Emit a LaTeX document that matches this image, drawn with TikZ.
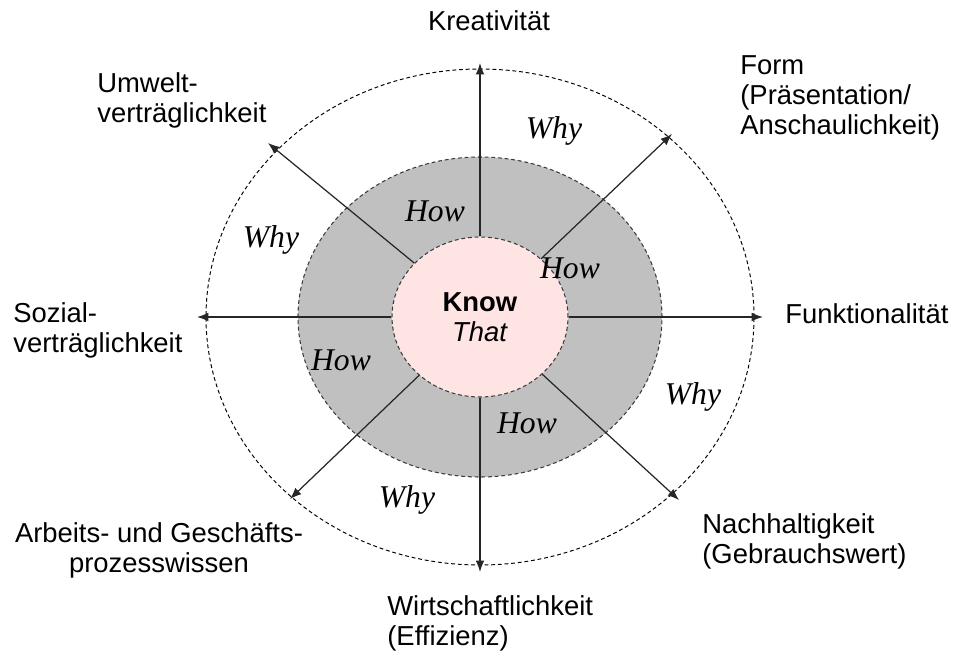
\documentclass[tikz,border=0pt]{standalone}
\usepackage{fontspec}
\setsansfont{Liberation Sans}
\newfontfamily\whyfont{Liberation Serif}
\usetikzlibrary{shapes.geometric,arrows.meta}
\definecolor{howgray}{RGB}{192,192,192}
\definecolor{knowpink}{RGB}{255,228,228}
\definecolor{rimgray}{RGB}{60,60,60}

\begin{document}
\begin{tikzpicture}[
    lbl/.style={font=\sffamily\fontsize{15.6}{17.1}\selectfont,inner sep=0pt},
    ask/.style={font=\whyfont\itshape\fontsize{18}{20}\selectfont,inner sep=0pt},
    rim/.style={dash pattern=on 2.2pt off 1.6pt,line width=0.6pt},
    ray/.style={-{Latex[length=6.5pt,width=5pt]},line width=0.7pt,black!85}]
  \useasboundingbox (-9.6,-6.7) rectangle (9.5,6.34);
  % the two rings
  \draw[rim,draw=rimgray,fill=howgray] (0,0) ellipse [x radius=3.64,y radius=3.2];
  \draw[rim,line width=0.55pt] (0,0) ellipse [x radius=5.48,y radius=4.96];
  \node[ellipse,rim,draw=rimgray,fill=knowpink,
        minimum width=3.52cm,minimum height=3.2cm,inner sep=0pt,
        align=center,font=\sffamily\fontsize{15.6}{17.1}\selectfont] (know) at (0,0)
        {\textbf{Know}\\\textit{That}};
  % rays
  \foreach \n/\x/\y in {N/0/5.08, NE/3.84/3.66, E/5.66/0, SE/3.98/-3.66,
                        S/0/-5.1, SW/-3.8/-3.64, W/-5.66/0, NW/-4.24/3.48}
    \coordinate (tip\n) at (\x,\y);
  \foreach \n in {N,NE,E,SE,S,SW,W,NW}
    \draw[ray] (know) -- (tip\n);
  % how / why
  \foreach \n/\x/\y/\t in {howNW/-0.9/2.12/How, howNE/1.8/0.98/How,
                           howW/-2.78/-0.86/How, howS/0.94/-2.12/How,
                           whyN/1.48/3.72/Why, whyW/-4.18/1.54/Why,
                           whySW/-1.46/-3.66/Why, whyE/4.26/-1.6/Why}
    \node[ask] (\n) at (\x,\y) {\t};
  % outer labels
  \node[lbl,anchor=base] (kreat) at (0.18,5.74) {Kreativität};
  \node[lbl,anchor=north west,align=left] (umwelt) at (-7.66,4.9) {Umwelt-\\verträglichkeit};
  \node[lbl,anchor=north west,align=left] (form) at (5.2,5.24) {Form\\(Präsentation/\\Anschaulichkeit)};
  \node[lbl,anchor=north west,align=left] (sozial) at (-9.34,0.3) {Sozial-\\verträglichkeit};
  \node[lbl,anchor=base west] (funkt) at (6.1,-0.12) {Funktionalität};
  \node[lbl,anchor=north,align=center] (arbeit) at (-6.42,-4.1) {Arbeits- und Geschäfts-\\prozesswissen};
  \node[lbl,anchor=north west,align=left] (nach) at (4.44,-3.92) {Nachhaltigkeit\\(Gebrauchswert)};
  \node[lbl,anchor=north west,align=left] (wirt) at (-1.86,-5.56) {Wirtschaftlichkeit\\(Effizienz)};
\end{tikzpicture}
\end{document}
